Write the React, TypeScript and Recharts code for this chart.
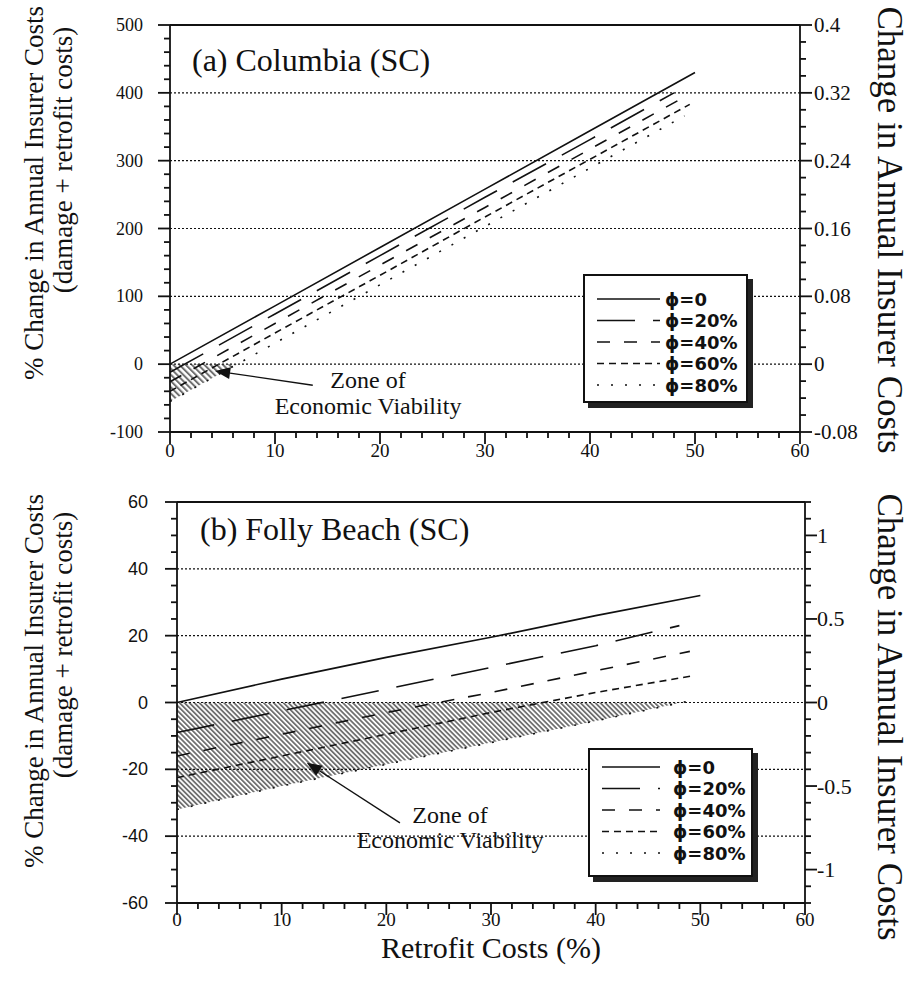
import React from 'react';
import { ComposedChart, Line, Area, XAxis, YAxis, ReferenceLine, Legend } from 'recharts';

// legend text and the line style used for each fraction phi
const legendLabels = ['ϕ=0', 'ϕ=20%', 'ϕ=40%', 'ϕ=60%', 'ϕ=80%'];
const phiDashes = ['0', '38 18', '13 14', '7 5', '2 12'];

// (a) Columbia (SC) - retrofit cost (%) vs % change in annual insurer cost
const columbiaPhi0 = [{ x: 0, y: 0 }, { x: 10, y: 86 }, { x: 20, y: 172 }, { x: 30, y: 258 }, { x: 40, y: 344 }, { x: 50, y: 430 }];
const columbiaPhi20 = [{ x: 0, y: -12 }, { x: 10, y: 74 }, { x: 20, y: 160 }, { x: 30, y: 246 }, { x: 40, y: 331 }, { x: 48, y: 400 }];
const columbiaPhi40 = [{ x: 0, y: -26 }, { x: 10, y: 60 }, { x: 20, y: 146 }, { x: 30, y: 231 }, { x: 40, y: 317 }, { x: 49, y: 394 }];
const columbiaPhi60 = [{ x: 0, y: -40 }, { x: 10, y: 46 }, { x: 20, y: 131 }, { x: 30, y: 217 }, { x: 40, y: 302 }, { x: 49.5, y: 383 }];
const columbiaPhi80 = [{ x: 0, y: -55 }, { x: 10, y: 31 }, { x: 20, y: 117 }, { x: 30, y: 203 }, { x: 40, y: 289 }, { x: 49, y: 366 }];
const columbiaZone = [{ x: 0, range: [-55, 0] }, { x: 6.4, range: [0, 0] }];
const columbiaGrid = [0, 100, 200, 300, 400];

// (b) Folly Beach (SC)
const follyPhi0 = [{ x: 0, y: 0 }, { x: 10, y: 7 }, { x: 20, y: 13.5 }, { x: 30, y: 19.5 }, { x: 40, y: 26 }, { x: 50, y: 32 }];
const follyPhi20 = [{ x: 0, y: -9 }, { x: 10, y: -2.5 }, { x: 20, y: 4 }, { x: 30, y: 10.5 }, { x: 40, y: 17 }, { x: 48, y: 23 }];
const follyPhi40 = [{ x: 0, y: -16 }, { x: 10, y: -9.5 }, { x: 20, y: -3 }, { x: 30, y: 3 }, { x: 40, y: 9.5 }, { x: 49, y: 15.3 }];
const follyPhi60 = [{ x: 0, y: -22.5 }, { x: 10, y: -16 }, { x: 20, y: -9.5 }, { x: 30, y: -3 }, { x: 40, y: 3 }, { x: 49.3, y: 8 }];
const follyPhi80 = [{ x: 0, y: -32 }, { x: 10, y: -25 }, { x: 20, y: -18.5 }, { x: 30, y: -12 }, { x: 40, y: -5.5 }, { x: 49, y: 0.5 }];
const follyZone = [
  { x: 0, range: [-32, 0] }, { x: 10, range: [-25, 0] }, { x: 20, range: [-18.5, 0] },
  { x: 30, range: [-12, 0] }, { x: 40, range: [-5.5, 0] }, { x: 48.2, range: [0, 0] },
];
const follyGrid = [-40, -20, 0, 20, 40];

const columbiaSeries = [columbiaPhi0, columbiaPhi20, columbiaPhi40, columbiaPhi60, columbiaPhi80];
const follySeries = [follyPhi0, follyPhi20, follyPhi40, follyPhi60, follyPhi80];

// axis tick positions
const steps = (from: number, to: number, step: number) => {
  const out: number[] = [];
  for (let i = 0; from + i * step <= to + 1e-9; i++) out.push(+(from + i * step).toFixed(4));
  return out;
};
const retrofitTicks = steps(0, 60, 2);
const columbiaLeftTicks = steps(-100, 500, 20);
const columbiaRightTicks = steps(-0.08, 0.4, 0.02);
const follyLeftTicks = steps(-60, 60, 5);
const follyRightTicks = steps(-1.2, 1.2, 0.1);

const SERIF = 'Liberation Serif';
const SANS = 'Liberation Sans';
const MINOR = 6; // axis tickSize, majors get an extra stub

const multipleOf = (step: number) => (v: number) => Math.abs(v / step - Math.round(v / step)) < 1e-6;
const fmt = (v: number) => String(+v.toFixed(2));

type TickOpts = {
  side: 'top' | 'bottom' | 'left' | 'right';
  major: (v: number) => boolean;
  label?: boolean;
  font?: string;
  size?: number;
  offset?: number; // distance of the label from the axis line
};

// x, y arrive at the end of the (minor length) tick line
const makeTick = (o: TickOpts) => (props: any) => {
  const x = Number(props.x);
  const y = Number(props.y);
  const v = props.payload.value;
  const big = o.major(v);
  const ext = 6;
  const w = 1.8;
  let dx = 0;
  let dy = 0;
  if (o.side === 'top') dy = -ext;
  if (o.side === 'bottom') dy = ext;
  if (o.side === 'left') dx = -ext;
  if (o.side === 'right') dx = ext;
  const size = o.size || 18;
  const off = (o.offset || 20) - MINOR;
  let tx = x;
  let ty = y;
  let anchor = 'middle';
  if (o.side === 'bottom') ty = y + off;
  if (o.side === 'left') { tx = x - off; ty = y + size * 0.34; anchor = 'end'; }
  if (o.side === 'right') { tx = x + off; ty = y + size * 0.34; anchor = 'start'; }
  return (
    <g>
      {big ? (
        <rect
          x={Math.min(x, x + dx) - (dx ? 0 : w / 2)}
          y={Math.min(y, y + dy) - (dy ? 0 : w / 2)}
          width={dx ? ext : w}
          height={dy ? ext : w}
          fill="#111"
        />
      ) : null}
      {o.label && big ? (
        <text x={tx} y={ty} textAnchor={anchor} fontFamily={o.font} fontSize={size} fill="#111">
          {fmt(v)}
        </text>
      ) : null}
    </g>
  );
};

const Arrow = (p: any) => {
  const { x1, y1, x2, y2 } = p;
  const ang = Math.atan2(y2 - y1, x2 - x1);
  const L = 15;
  const W = 6;
  const bx = x2 - L * Math.cos(ang);
  const by = y2 - L * Math.sin(ang);
  const nx = -Math.sin(ang) * W;
  const ny = Math.cos(ang) * W;
  return (
    <g>
      <line x1={x1} y1={y1} x2={bx} y2={by} stroke="#111" strokeWidth={1.4} />
      <polygon points={`${x2},${y2} ${bx + nx},${by + ny} ${bx - nx},${by - ny}`} fill="#111" />
    </g>
  );
};

const LegendBox = ({ rowTop, textLeft, lineRight }: { rowTop: number; textLeft: number; lineRight: number }) => (
  <div
    style={{
      width: 165,
      height: 129,
      boxSizing: 'border-box',
      border: '2px solid #111',
      background: '#fff',
      boxShadow: '5px 5px 0 #222',
    }}
  >
    <svg width={161} height={125} style={{ display: 'block' }}>
      {legendLabels.map((label, i) => {
        const y = rowTop + i * 21.5;
        return (
          <g key={label}>
            <line x1={12} x2={lineRight} y1={y} y2={y} stroke="#111" strokeWidth={1.6} strokeDasharray={phiDashes[i]} />
            <text x={textLeft} y={y + 6.5} fontFamily="DejaVu Sans" fontWeight="bold" fontSize={18} fill="#111">
              {label}
            </text>
          </g>
        );
      })}
    </svg>
  </div>
);

const axisStroke = { stroke: '#111', strokeWidth: 1.8 };

const ColumbiaChart = () => (
  <ComposedChart width={912} height={480} margin={{ top: 0, right: 0, bottom: 0, left: 0 }}>
    <defs>
      <pattern id="hatchA" width="4.4" height="4.4" patternUnits="userSpaceOnUse" patternTransform="rotate(-45)">
        <rect x="0" y="0" width="2" height="4.4" fill="#111" />
      </pattern>
    </defs>
    <XAxis
      xAxisId={0}
      dataKey="x"
      type="number"
      domain={[0, 60]}
      ticks={retrofitTicks}
      interval={0}
      height={48}
      tickSize={MINOR}
      tickMargin={0}
      axisLine={axisStroke}
      tickLine={axisStroke}
      tick={makeTick({ side: 'bottom', major: multipleOf(10), label: true, font: SERIF, size: 19, offset: 25 })}
    />
    <XAxis
      xAxisId="top"
      orientation="top"
      type="number"
      domain={[0, 60]}
      ticks={retrofitTicks}
      interval={0}
      height={25}
      tickSize={MINOR}
      tickMargin={0}
      axisLine={axisStroke}
      tickLine={axisStroke}
      tick={makeTick({ side: 'top', major: multipleOf(10) })}
    />
    <YAxis
      yAxisId={0}
      type="number"
      domain={[-100, 500]}
      ticks={columbiaLeftTicks}
      interval={0}
      width={170}
      tickSize={MINOR}
      tickMargin={0}
      allowDataOverflow
      axisLine={axisStroke}
      tickLine={axisStroke}
      tick={makeTick({ side: 'left', major: multipleOf(100), label: true, font: SERIF, size: 18, offset: 27 })}
    />
    <YAxis
      yAxisId="right"
      orientation="right"
      type="number"
      domain={[-0.08, 0.4]}
      ticks={columbiaRightTicks}
      interval={0}
      width={112}
      tickSize={MINOR}
      tickMargin={0}
      allowDataOverflow
      axisLine={axisStroke}
      tickLine={axisStroke}
      tick={makeTick({ side: 'right', major: multipleOf(0.08), label: true, font: SERIF, size: 21, offset: 14 })}
    />
    {columbiaGrid.map((g) => (
      <ReferenceLine key={g} y={g} stroke="#111" strokeWidth={1.1} strokeDasharray="2 2" />
    ))}
    <Area data={columbiaZone} dataKey="range" type="linear" stroke="none" fill="url(#hatchA)" isAnimationActive={false} />
    {columbiaSeries.map((s, i) => (
      <Line
        key={legendLabels[i]}
        data={s}
        dataKey="y"
        type="linear"
        stroke="#111"
        strokeWidth={1.6}
        strokeDasharray={phiDashes[i]}
        dot={false}
        activeDot={false}
        isAnimationActive={false}
      />
    ))}
    <ReferenceLine segment={[{ x: 13.6, y: -31 }, { x: 4.3, y: -10 }]} shape={Arrow} />
    <Legend
      layout="vertical"
      align="center"
      verticalAlign="middle"
      wrapperStyle={{ left: 583, top: 274, width: 'auto', height: 'auto' }}
      content={() => <LegendBox rowTop={23} textLeft={80} lineRight={75} />}
    />
    <text x={192} y={71} fontFamily={SERIF} fontSize={32} fill="#111">(a) Columbia (SC)</text>
    <text x={368} y={388} textAnchor="middle" fontFamily={SERIF} fontSize={24} fill="#111">Zone of</text>
    <text x={368} y={414} textAnchor="middle" fontFamily={SERIF} fontSize={24} fill="#111">Economic Viability</text>
    <text transform="translate(43,193) rotate(-90)" textAnchor="middle" fontFamily={SERIF} fontSize={27} fill="#111">
      % Change in Annual Insurer Costs
    </text>
    <text transform="translate(72,160) rotate(-90)" textAnchor="middle" fontFamily={SERIF} fontSize={27} fill="#111">
      (damage + retrofit costs)
    </text>
    <text transform="translate(878,230) rotate(90)" textAnchor="middle" fontFamily={SERIF} fontSize={35} fill="#111">
      Change in Annual Insurer Costs
    </text>
  </ComposedChart>
);

const FollyChart = () => (
  <ComposedChart width={912} height={502} margin={{ top: 0, right: 0, bottom: 0, left: 0 }}>
    <defs>
      <pattern id="hatchB" width="3.5" height="3.5" patternUnits="userSpaceOnUse" patternTransform="rotate(-45)">
        <rect x="0" y="0" width="1.8" height="3.5" fill="#111" />
      </pattern>
    </defs>
    <XAxis
      xAxisId={0}
      dataKey="x"
      type="number"
      domain={[0, 60]}
      ticks={retrofitTicks}
      interval={0}
      height={79}
      tickSize={MINOR}
      tickMargin={0}
      axisLine={axisStroke}
      tickLine={axisStroke}
      tick={makeTick({ side: 'bottom', major: multipleOf(10), label: true, font: SERIF, size: 19, offset: 23 })}
    />
    <XAxis
      xAxisId="top"
      orientation="top"
      type="number"
      domain={[0, 60]}
      ticks={retrofitTicks}
      interval={0}
      height={22}
      tickSize={MINOR}
      tickMargin={0}
      axisLine={axisStroke}
      tickLine={axisStroke}
      tick={makeTick({ side: 'top', major: multipleOf(10) })}
    />
    <YAxis
      yAxisId={0}
      type="number"
      domain={[-60, 60]}
      ticks={follyLeftTicks}
      interval={0}
      width={177}
      tickSize={MINOR}
      tickMargin={0}
      allowDataOverflow
      axisLine={axisStroke}
      tickLine={axisStroke}
      tick={makeTick({ side: 'left', major: multipleOf(20), label: true, font: SANS, size: 18, offset: 29 })}
    />
    <YAxis
      yAxisId="right"
      orientation="right"
      type="number"
      domain={[-1.2, 1.2]}
      ticks={follyRightTicks}
      interval={0}
      width={107}
      tickSize={MINOR}
      tickMargin={0}
      allowDataOverflow
      axisLine={axisStroke}
      tickLine={axisStroke}
      tick={makeTick({ side: 'right', major: multipleOf(0.5), label: true, font: SERIF, size: 22, offset: 12 })}
    />
    {follyGrid.map((g) => (
      <ReferenceLine key={g} y={g} stroke="#111" strokeWidth={1.1} strokeDasharray="2 2" />
    ))}
    <Area data={follyZone} dataKey="range" type="linear" stroke="none" fill="url(#hatchB)" isAnimationActive={false} />
    {follySeries.map((s, i) => (
      <Line
        key={legendLabels[i]}
        data={s}
        dataKey="y"
        type="linear"
        stroke="#111"
        strokeWidth={1.6}
        strokeDasharray={phiDashes[i]}
        dot={false}
        activeDot={false}
        isAnimationActive={false}
      />
    ))}
    <ReferenceLine segment={[{ x: 21.3, y: -36 }, { x: 12.4, y: -18 }]} shape={Arrow} />
    <Legend
      layout="vertical"
      align="center"
      verticalAlign="middle"
      wrapperStyle={{ left: 588, top: 268, width: 'auto', height: 'auto' }}
      content={() => <LegendBox rowTop={17} textLeft={83} lineRight={70} />}
    />
    <text x={200} y={60} fontFamily={SERIF} fontSize={32} fill="#111">(b) Folly Beach (SC)</text>
    <rect x={350} y={348} width={196} height={24} fill="#fff" />
    <text x={450} y={343} textAnchor="middle" fontFamily={SERIF} fontSize={24} fill="#111">Zone of</text>
    <text x={450} y={368} textAnchor="middle" fontFamily={SERIF} fontSize={24} fill="#111">Economic Viability</text>
    <text x={491} y={478} textAnchor="middle" fontFamily={SERIF} fontSize={30} fill="#111">Retrofit Costs (%)</text>
    <text transform="translate(43,201) rotate(-90)" textAnchor="middle" fontFamily={SERIF} fontSize={27} fill="#111">
      % Change in Annual Insurer Costs
    </text>
    <text transform="translate(72,165) rotate(-90)" textAnchor="middle" fontFamily={SERIF} fontSize={27} fill="#111">
      (damage + retrofit costs)
    </text>
    <text transform="translate(878,237) rotate(90)" textAnchor="middle" fontFamily={SERIF} fontSize={35} fill="#111">
      Change in Annual Insurer Costs
    </text>
  </ComposedChart>
);

export default function App() {
  return (
    <div style={{ position: 'absolute', left: 0, top: 0, width: 912, height: 982, background: '#fff' }}>
      <div style={{ position: 'absolute', left: 0, top: 0 }}>
        <ColumbiaChart />
      </div>
      <div style={{ position: 'absolute', left: 0, top: 480 }}>
        <FollyChart />
      </div>
    </div>
  );
}
